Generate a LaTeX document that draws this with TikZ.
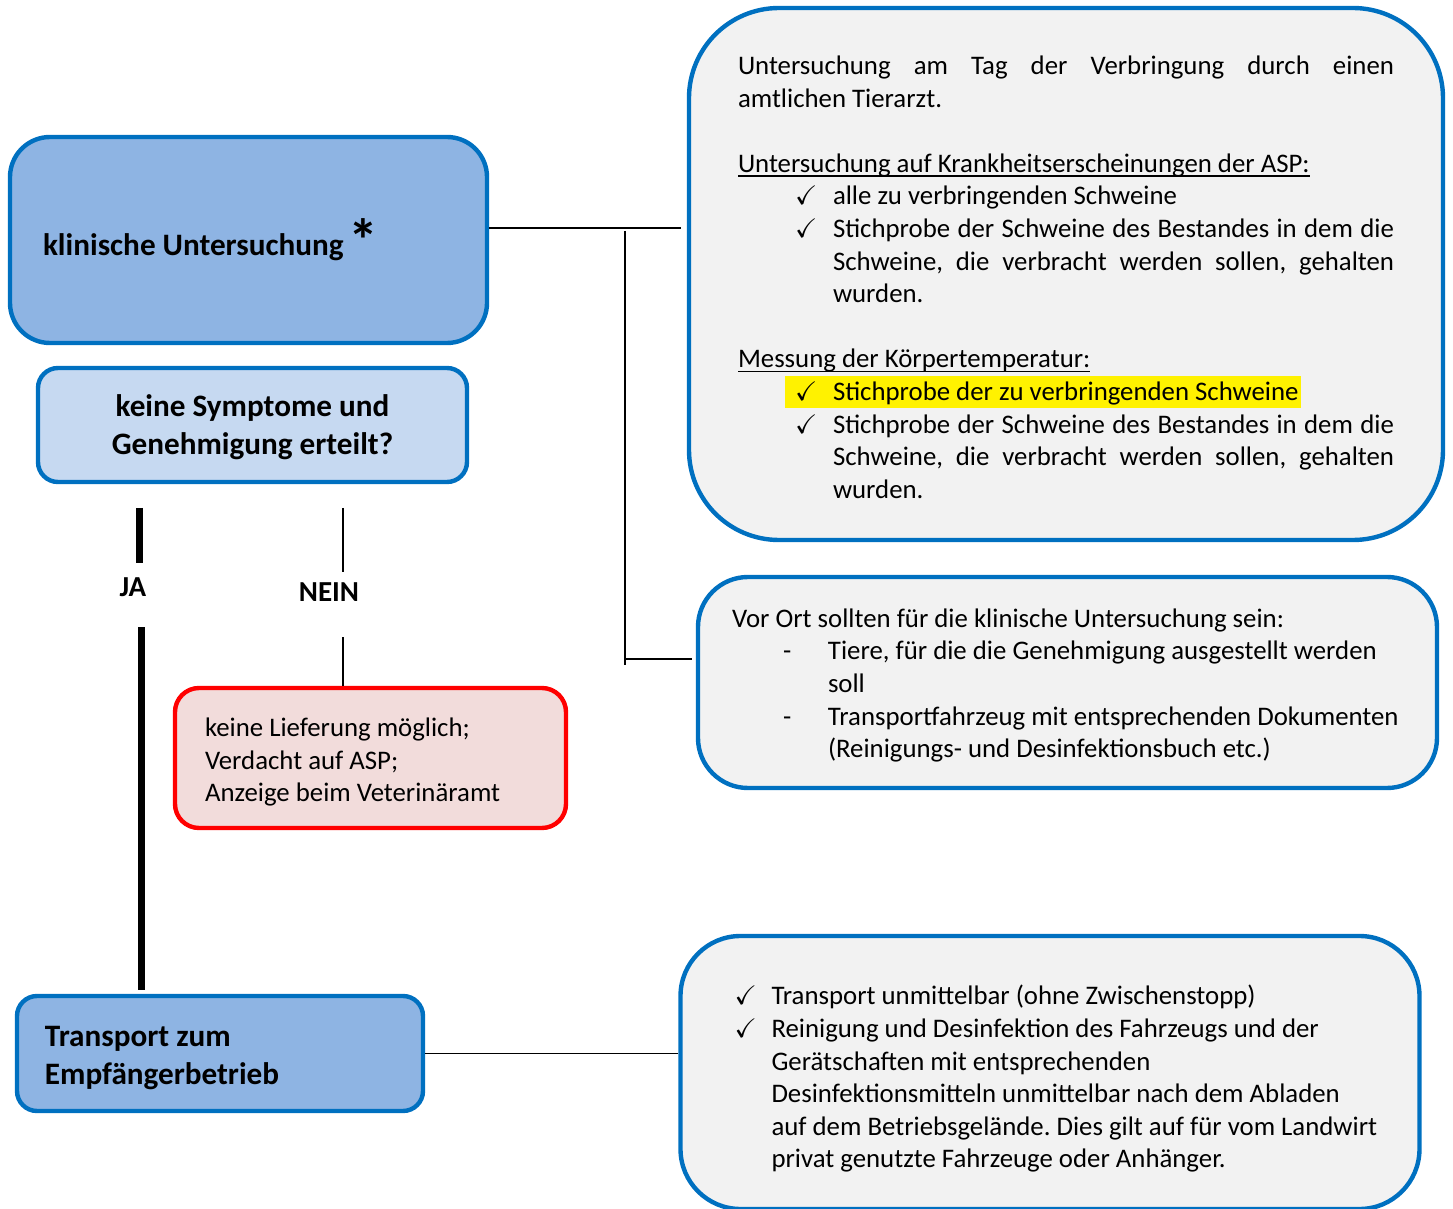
\documentclass[tikz,border=0pt]{standalone}
\usepackage{amssymb}
\usepackage{fontspec}
\setmainfont{Carlito}
\usepackage{xcolor}
\usepackage{tikz}
\definecolor{Stroke}{HTML}{0070C0}
\definecolor{Blue}{HTML}{8EB4E3}
\definecolor{PaleBlue}{HTML}{C6D9F1}
\definecolor{Paper}{HTML}{F2F2F2}
\definecolor{Alarm}{HTML}{FF0000}
\definecolor{AlarmFill}{HTML}{F2DCDB}
\frenchspacing
\newcommand{\bodyfont}{\fontsize{13.4}{16.3}\selectfont}
\newcommand{\headfont}{\fontsize{15.6}{19.2}\selectfont\bfseries}
\newcommand{\chk}[2]{\par\noindent\hangindent=#2\hangafter=1\hspace*{#1}\makebox[\dimexpr#2-#1\relax][l]{$\checkmark$}}
\newcommand{\dsh}{\par\noindent\hangindent=48pt\hangafter=1\hspace*{25.5pt}\makebox[22.5pt][l]{-}}
\newcommand{\flush}{\rightskip=0pt plus 1fil\spaceskip=0pt\xspaceskip=0pt\hyphenpenalty=10000}
\newcommand{\centred}{\leftskip=0pt plus 1fil\rightskip=0pt plus 1fil\parfillskip=0pt\spaceskip=0pt\xspaceskip=0pt}
\newcommand{\uline}[1]{\setbox0=\hbox{#1}\rlap{\rule[-2.3pt]{\wd0}{0.7pt}}\box0}
\tikzset{
  stepbox/.style={rectangle, rounded corners=10pt, draw=Stroke, line width=2.2pt,
    fill=Blue, align=left, font=\headfont},
  infobox/.style={rectangle, rounded corners=25pt, draw=Stroke, line width=2.2pt,
    fill=Paper, font=\bodyfont},
  stopbox/.style={rectangle, rounded corners=12pt, draw=Alarm, line width=2.2pt,
    fill=AlarmFill, align=left, font=\bodyfont},
  link/.style={draw=black, line width=1.3pt},
  thin/.style={draw=black, line width=0.9pt},
  yes/.style={draw=black, line width=3.5pt},
  answer/.style={font=\fontsize{14.5}{17}\selectfont\bfseries}
}

\begin{document}
\begin{tikzpicture}[x=0.5pt, y=-0.5pt]
  \useasboundingbox (0,0) rectangle (1453,1209);

  % linke Spalte
  \node[stepbox, rounded corners=20pt, minimum width=238.5pt, minimum height=103pt,
    inner xsep=16.5pt, text width=205.5pt] (klin) at (248.5,240)
    {\flush klinische Untersuchung\,\raisebox{-3pt}{\fontsize{30}{30}\selectfont *}};
  \node[stepbox, fill=PaleBlue, minimum width=214.5pt, minimum height=57pt,
    inner xsep=10pt, text width=194.5pt] (frage) at (252.5,425)
    {\centred\rule{0pt}{13.4pt}keine Symptome und\\Genehmigung erteilt?\par};
  \node[stopbox, minimum width=195.5pt, minimum height=70pt,
    inner xsep=15pt, text width=165.5pt] (stopp) at (370.5,758)
    {\flush\rule{0pt}{13.4pt}keine Lieferung möglich;\\Verdacht auf ASP;\\Anzeige beim Veterinäramt};
  \node[stepbox, minimum width=203pt, minimum height=57.5pt,
    inner xsep=14pt, text width=175pt] (transport) at (220,1053.5)
    {\flush\rule{0pt}{14.5pt}Transport zum\\Empfängerbetrieb};

  \node[answer] (ja) at (133,587) {JA};
  \node[answer] (nein) at (329,592) {NEIN};

  % rechte Spalte
  \node[infobox, rounded corners=45pt, minimum width=377pt, minimum height=266pt,
    inner xsep=24.5pt, text width=328pt, align=justify] (befund) at (1066,274)
    {\noindent\rule{0pt}{12.5pt}Untersuchung am Tag der Verbringung durch einen\linebreak amtlichen Tierarzt.\par
     \vspace{16.3pt}
     \noindent\uline{Untersuchung auf Krankheitserscheinungen der ASP:}
     \chk{28.5pt}{47.5pt}alle zu verbringenden Schweine
     \chk{28.5pt}{47.5pt}Stichprobe der Schweine des Bestandes in dem die\linebreak
       Schweine, die verbracht werden sollen, gehalten\linebreak wurden.\par
     \vspace{16.3pt}
     \noindent\uline{Messung der Körpertemperatur:}\par
     \noindent\hspace*{23.5pt}\smash{\fboxsep=0pt\colorbox{yellow}{\rule[-4pt]{0pt}{16pt}\hspace*{5pt}\makebox[19pt][l]{$\checkmark$}Stichprobe der zu verbringenden Schweine\hspace*{1pt}}}
     \chk{28.5pt}{47.5pt}Stichprobe der Schweine des Bestandes in dem die\linebreak
       Schweine, die verbracht werden sollen, gehalten\linebreak wurden.\par};
  \node[infobox, minimum width=369.5pt, minimum height=105.5pt,
    inner xsep=0pt, text width=369.5pt, align=left] (vorort) at (1067.5,682.5)
    {\leftskip=17pt\flush
     \noindent\rule{0pt}{12.4pt}Vor Ort sollten für die klinische Untersuchung sein:
     \dsh Tiere, für die die Genehmigung ausgestellt werden\newline soll
     \dsh Transportfahrzeug mit entsprechenden Dokumenten\newline (Reinigungs- und Desinfektionsbuch etc.)\par};
  \node[infobox, rounded corners=30pt, minimum width=369.5pt, minimum height=136.5pt,
    inner xsep=0pt, text width=369.5pt, align=left] (fahrt) at (1050,1072.5)
    {\leftskip=27pt\flush
     \chk{0pt}{18.5pt}Transport unmittelbar (ohne Zwischenstopp)
     \chk{0pt}{18.5pt}Reinigung und Desinfektion des Fahrzeugs und der\newline
       Gerätschaften mit entsprechenden\newline
       Desinfektionsmitteln unmittelbar nach dem Abladen\newline
       auf dem Betriebsgelände. Dies gilt auf für vom Landwirt\newline
       privat genutzte Fahrzeuge oder Anhänger.\par};

  % Verbindungen
  \coordinate (k1) at (681,228);
  \coordinate (v1) at (625,231);
  \coordinate (v2) at (625,665);
  \coordinate (v3) at (692,659);
  \coordinate (ja1) at (139,508);
  \coordinate (ja2) at (139,563);
  \coordinate (ja3) at (141,627);
  \coordinate (ja4) at (141,990);
  \coordinate (ne1) at (343,508);
  \coordinate (ne2) at (343,572);
  \coordinate (ne3) at (343,637);

  \draw[link] (klin.east |- k1) -- (k1);
  \draw[thin] (v1) -- (v2);
  \draw[link] (v2 |- v3) -- (v3);
  \draw[yes] (ja1) -- (ja2);
  \draw[yes] (ja3) -- (ja4);
  \draw[thin] (ne1) -- (ne2);
  \draw[thin] (ne3) -- (ne3 |- stopp.north);
  \draw[thin] (transport.east) -- (transport.east -| fahrt.west);
\end{tikzpicture}
\end{document}
